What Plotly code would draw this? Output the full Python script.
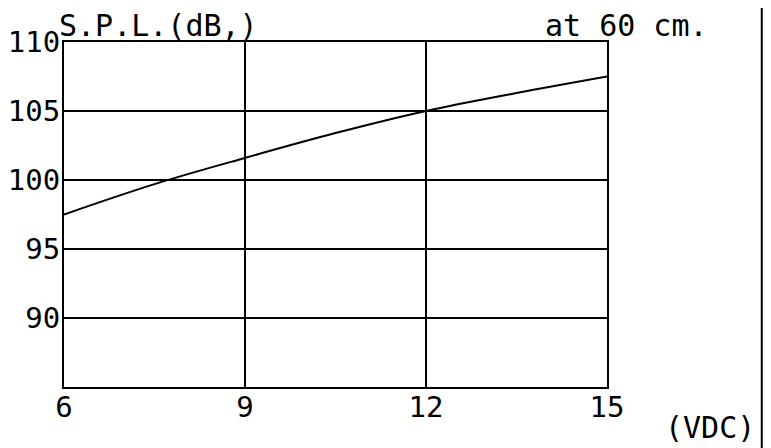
import plotly.graph_objects as go

# datos
voltaje = [6, 7.5, 9, 10.5, 12, 13.5, 15]
spl_db = [97.5, 99.7, 101.6, 103.4, 105.0, 106.3, 107.5]

x_ticks = [6, 9, 12, 15]
y_ticks = [90, 95, 100, 105, 110]

FUENTE = "DejaVu Sans Mono"

fig = go.Figure(data=[
    go.Scatter(x=voltaje, y=spl_db, mode="lines",
               line=dict(color="black", width=2, shape="spline"))
])

# ejes con rejilla negra
eje = dict(showline=True, mirror=True, linecolor="black", linewidth=2,
           showgrid=True, gridcolor="black", gridwidth=2,
           zeroline=False, ticks="", automargin=False,
           tickfont=dict(family=FUENTE, size=29, color="black"))

fig.update_xaxes(range=[6, 15], tickvals=x_ticks,
                 ticktext=[str(v) for v in x_ticks],
                 ticklabelstandoff=-7, **eje)
fig.update_yaxes(range=[85, 110], tickvals=y_ticks,
                 ticktext=[str(v) for v in y_ticks],
                 ticklabelstandoff=-4, **eje)

texto = dict(family=FUENTE, size=30, color="black")
fig.add_annotation(text="S.P.L.(dB,)", xref="paper", yref="paper",
                   x=-0.012, y=0.99, xanchor="left", yanchor="bottom",
                   showarrow=False, font=texto)
fig.add_annotation(text="at 60 cm.", xref="paper", yref="paper",
                   x=1.19, y=0.99, xanchor="right", yanchor="bottom",
                   showarrow=False, font=texto)
fig.add_annotation(text="(VDC)", xref="paper", yref="paper",
                   x=1.276, y=-0.06, xanchor="right", yanchor="top",
                   showarrow=False, font=texto)

# marco a la derecha
fig.add_shape(type="line", xref="paper", yref="paper",
              x0=1.285, x1=1.285, y0=-0.18, y1=1.1,
              line=dict(color="black", width=2), layer="above")

fig.update_layout(
    width=763,
    height=440,
    margin=dict(l=56, r=164, t=34, b=61),
    plot_bgcolor="white",
    paper_bgcolor="white",
    showlegend=False
)

fig.write_html("out.html")
